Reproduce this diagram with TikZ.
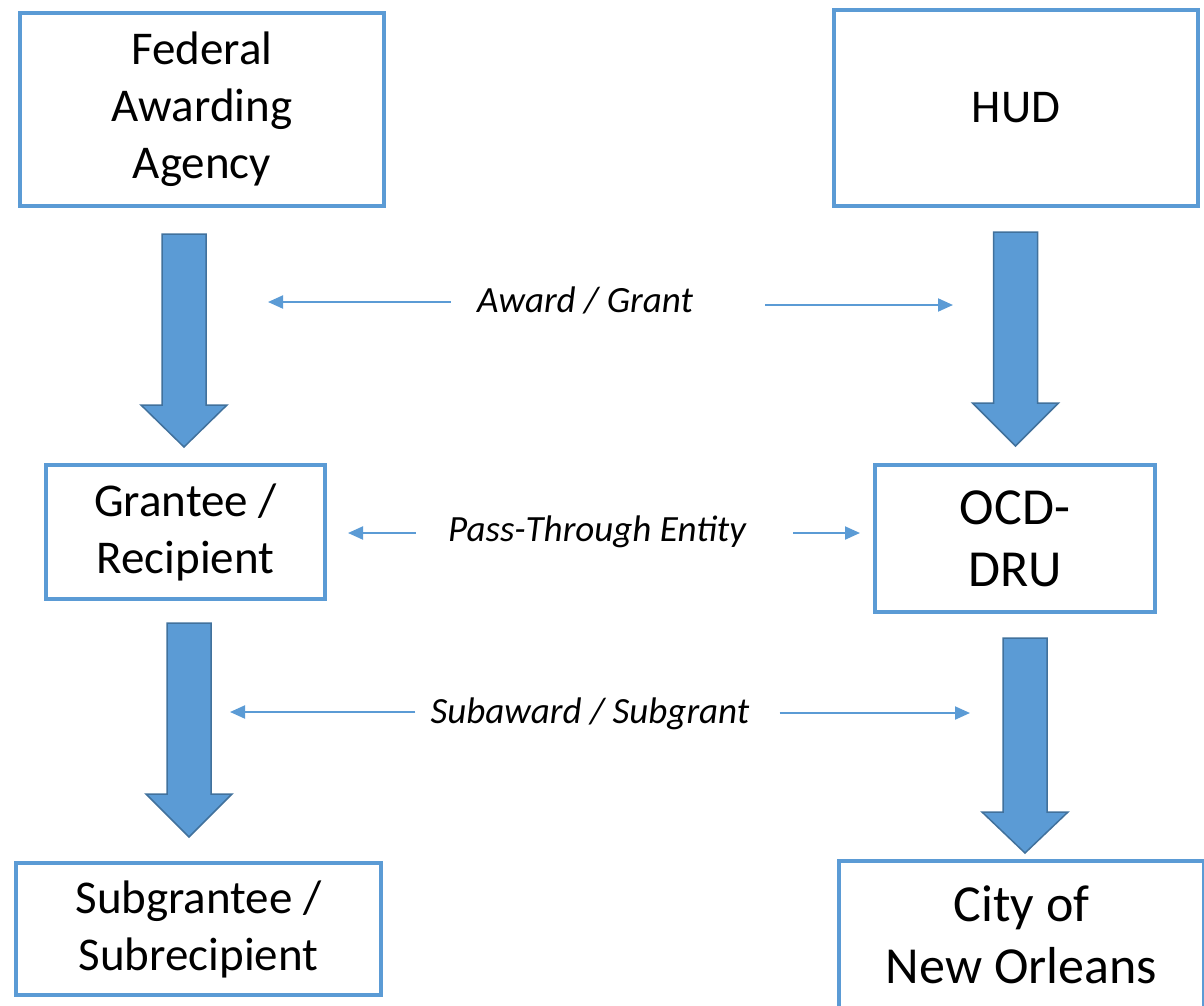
\documentclass[tikz,border=0pt]{standalone}
\usepackage{fontspec}
\setmainfont{Carlito}
\usetikzlibrary{arrows.meta, positioning}
\definecolor{boxblue}{HTML}{5B9BD5}
\definecolor{edgeblue}{HTML}{41719C}
\tikzset{
    org box/.style={draw=boxblue, line width=4pt, fill=white, align=center,
        inner sep=0pt, font=\fontsize{47}{57}\selectfont}, % boxes of the chart
    big box/.style={org box, font=\fontsize{52}{62}\selectfont},
    flow label/.style={font=\fontsize{37}{44}\selectfont\itshape, inner sep=0pt},
    thin flow/.style={draw=boxblue, line width=2pt, -{Triangle[length=15pt,width=13pt]}},
    big arrow/.style={fill=boxblue, draw=edgeblue, line width=1.5pt, line join=miter},
}
% #1 = x of axis, #2 = top, #3 = head base, #4 = tip
\newcommand{\downarrowshape}[4]{%
    \path[big arrow] (#1-22,#2) -- (#1+22,#2) -- (#1+22,#3) -- (#1+43,#3)
        -- (#1,#4) -- (#1-43,#3) -- (#1-22,#3) -- cycle;}

\begin{document}
\begin{tikzpicture}[x=1pt, y=-1pt]
    \useasboundingbox (0,0) rectangle (1204,1005);

    % left column
    \node [org box, minimum width=364pt, minimum height=193pt] (federal) at (202,109.5)
        {Federal\\Awarding\\Agency};
    \node [org box, minimum width=279pt, minimum height=134pt] (grantee) at (185.5,532)
        {Grantee /\\Recipient};
    \node [org box, minimum width=365pt, minimum height=132pt] (subgrantee) at (198.5,929)
        {Subgrantee /\\Subrecipient};

    % right column
    \node [org box, minimum width=364pt, minimum height=196pt] (hud) at (1016,108) {HUD};
    \node [big box, minimum width=280pt, minimum height=147pt] (ocd) at (1015,538.5)
        {OCD-\\DRU};
    \node [big box, minimum width=365pt, minimum height=148pt] (city) at (1021.5,935)
        {City of\\New Orleans};

    % block arrows
    \downarrowshape{184}{234}{405}{447}
    \downarrowshape{189}{623}{794}{837}
    \downarrowshape{1015.5}{232}{403}{446}
    \downarrowshape{1025}{638}{812}{853}

    % labels in the middle
    \node [flow label] (award) at (585,300) {Award / Grant};
    \node [flow label] (passthrough) at (597,532) {Pass-Through Entity};
    \node [flow label] (subaward) at (590,714) {Subaward / Subgrant};

    \coordinate (award-l) at (268,302);
    \coordinate (award-r) at (953,305);
    \coordinate (pass-l) at (348,533);
    \coordinate (pass-r) at (860,533);
    \coordinate (sub-l) at (230,712);
    \coordinate (sub-r) at (970,713);

    \draw [thin flow] ([xshift=-26pt]award.west |- award-l) -- (award-l);
    \draw [thin flow] ([xshift=72pt]award.east |- award-r) -- (award-r);
    \draw [thin flow] ([xshift=-32pt]passthrough.west |- pass-l) -- (pass-l);
    \draw [thin flow] ([xshift=47pt]passthrough.east |- pass-r) -- (pass-r);
    \draw [thin flow] ([xshift=-15pt]subaward.west |- sub-l) -- (sub-l);
    \draw [thin flow] ([xshift=30pt]subaward.east |- sub-r) -- (sub-r);
\end{tikzpicture}
\end{document}
